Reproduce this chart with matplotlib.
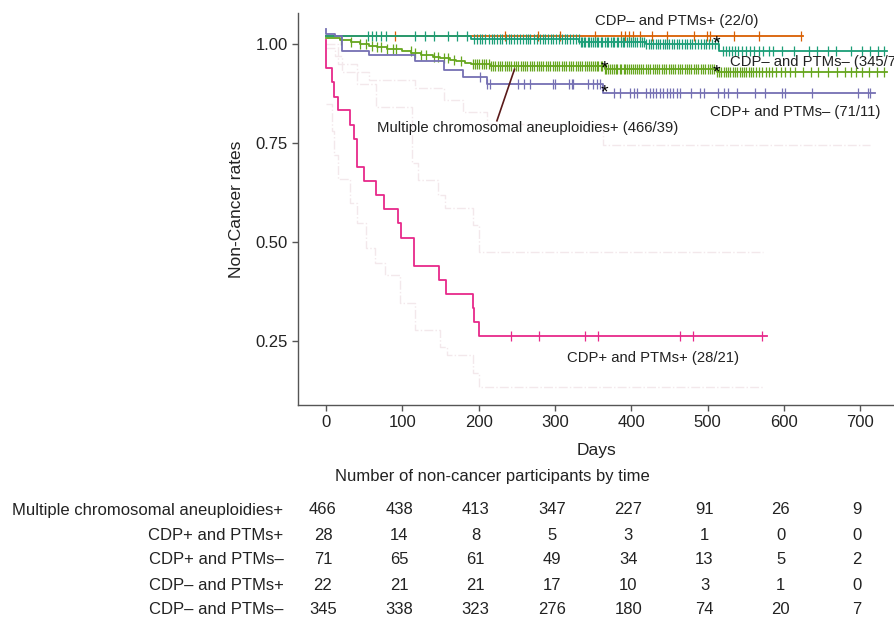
import numpy as np
import matplotlib.pyplot as plt
from matplotlib import transforms

plt.rcParams['font.family'] = ['Liberation Sans', 'DejaVu Sans']

# ---- Kaplan-Meier step curves (day of step, survival after step) ----
pink_t = [0, 0, 8, 11, 16, 32, 37, 40, 50, 65, 76, 95, 98, 115, 148, 157, 192, 194, 200]
pink_s = [1.01, 0.940, 0.904, 0.868, 0.833, 0.797, 0.762, 0.690, 0.655, 0.619, 0.584,
          0.548, 0.512, 0.441, 0.406, 0.370, 0.334, 0.299, 0.263]
pink_end = 578
pink_cens = [242, 279, 340, 356, 464, 481, 571]

blue_t = [0, 0, 12, 21, 56, 116, 154, 179, 211, 363]
blue_s = [1.040, 1.026, 1.021, 0.984, 0.973, 0.958, 0.935, 0.918, 0.900, 0.876]
blue_end = 720
blue_cens = [202, 211, 215, 252, 259, 267, 298, 300, 318, 322, 324, 344, 350, 355, 359,
             377, 385, 398, 403, 407, 420, 425, 429, 433, 438, 442, 447, 451, 455, 460,
             464, 478, 490, 495, 514, 521, 527, 538, 562, 575, 597, 602, 637, 697, 710, 713]

orange_t = [0]
orange_s = [1.020]
orange_end = 625
orange_cens = [91, 235, 278, 307, 352, 387, 392, 397, 402, 412, 427, 447, 482, 499,
               503, 535, 568, 623]

teal_t = [0, 190, 332, 420, 515]
teal_s = [1.020, 1.013, 1.006, 1.000, 0.983]
teal_end = 735
teal_cens = [55, 60, 65, 72, 79, 116, 130, 141, 160, 172, 185,
             194, 198, 202, 205, 209, 213, 217, 220, 224, 228, 231,
             236, 240, 243, 247, 250, 254, 258, 262, 265, 268, 272, 276, 280, 284, 287,
             291, 295, 298, 302, 305, 309, 313, 316, 320, 324, 328, 331,
             334, 336, 338, 340, 343, 345, 347, 350, 352, 355, 357, 360, 362, 365, 368,
             370, 373, 376, 378, 381, 383, 386, 389, 391, 394, 397, 400, 402, 405, 408,
             411, 414, 417, 420, 423, 426, 429, 432, 435, 438, 441, 444, 447, 450, 453,
             456, 460, 463, 466, 470, 473, 477, 480, 484, 487, 491, 495, 498, 502, 506,
             510, 514, 520, 524, 528, 532, 536, 540, 545, 550, 556, 561, 567, 573, 580,
             586, 598, 613, 633, 643, 658, 668, 688, 703, 713, 723, 731]

green_t = [0, 18, 33, 45, 56, 67, 80, 100, 112, 125, 140, 150, 162, 170, 182, 190, 215, 365, 512]
green_s = [1.016, 1.011, 1.005, 1.000, 0.996, 0.993, 0.989, 0.983, 0.978, 0.973, 0.969,
           0.965, 0.961, 0.958, 0.954, 0.950, 0.945, 0.938, 0.929]
green_end = 735
green_cens = [20, 33, 45, 53, 60, 67, 72, 80, 88, 92, 111, 116, 125, 131, 142, 147, 155,
              160, 168, 177, 192, 195, 198, 201, 204, 207, 210, 213, 216, 219, 222, 225,
              228, 231, 234, 237, 240, 243, 246, 249, 252, 255, 258, 261, 264, 267, 270,
              273, 276, 279, 282, 285, 288, 291, 294, 297, 300, 303, 306, 309, 312, 315,
              318, 321, 324, 327, 330, 333, 336, 339, 342, 345, 347, 350, 352, 355, 357,
              360, 362, 365, 367, 370, 372, 375, 377, 380, 382, 385, 387, 390, 392, 395,
              397, 400, 402, 405, 407, 410, 413, 416, 419, 422, 425, 428, 431, 434, 437,
              440, 443, 446, 449, 452, 455, 458, 461, 464, 467, 470, 473, 476, 479, 482,
              485, 488, 491, 494, 497, 500, 503, 506, 509, 512, 515, 518, 521, 524, 527,
              530, 533, 536, 539, 542, 545, 548, 551, 554, 557, 560, 564, 568, 572, 576,
              580, 585, 590, 596, 602, 608, 615, 625, 635, 645, 658, 670, 680, 688, 695,
              702, 712, 722, 731]

# 95% CI bounds (faint)
pink_hi_t = [0, 16, 40, 66, 113, 120, 147, 156, 193, 200]
pink_hi_s = [1.0, 0.95, 0.90, 0.842, 0.70, 0.657, 0.619, 0.586, 0.544, 0.476]
pink_lo_t = [0, 8, 11, 16, 32, 40, 53, 64, 77, 97, 117, 150, 158, 193, 200]
pink_lo_s = [0.85, 0.78, 0.72, 0.66, 0.60, 0.55, 0.485, 0.447, 0.418, 0.346, 0.279,
             0.236, 0.215, 0.169, 0.135]
ci_end = 573
blue_lo_t = [0, 12, 21, 56, 116, 154, 179, 211, 363]
blue_lo_s = [0.99, 0.97, 0.93, 0.91, 0.89, 0.86, 0.83, 0.80, 0.746]
blue_lo_end = 713

star_days = [365, 512]

# number at risk table
risk_times = [0, 100, 200, 300, 400, 500, 600, 700]
risk_labels = ['Multiple chromosomal aneuploidies+', 'CDP+ and PTMs+', 'CDP+ and PTMs\u2013',
               'CDP\u2013 and PTMs+', 'CDP\u2013 and PTMs\u2013']
risk_mca = [466, 438, 413, 347, 227, 91, 26, 9]
risk_pp = [28, 14, 8, 5, 3, 1, 0, 0]
risk_pm = [71, 65, 61, 49, 34, 13, 5, 2]
risk_mp = [22, 21, 21, 17, 10, 3, 1, 0]
risk_mm = [345, 338, 323, 276, 180, 74, 20, 7]

c_teal, c_orange, c_purple, c_pink, c_green = '#1B9E77', '#D95F02', '#7570B3', '#E7298A', '#66A61E'


def value_at(t, s, day):
    i = np.searchsorted(t, day, side='right') - 1
    return s[i]


def km(ax, t, s, end, cens, color, lw=1.3):
    xs = list(t) + [end]
    ys = list(s) + [s[-1]]
    ax.step(xs, ys, where='post', color=color, lw=lw, zorder=3)
    if cens:
        cy = [value_at(np.array(t), s, d) for d in cens]
        ax.plot(cens, cy, ls='none', marker='|', ms=7, mew=0.9, color=color, zorder=3)


fig = plt.figure(figsize=(8.95, 6.17), dpi=100)
ax = fig.add_axes([0.3333, 0.3436, 0.6667, 0.6358])

ci_col = '#f3e8eb'
ax.step(pink_hi_t + [ci_end], pink_hi_s + [pink_hi_s[-1]], where='post', color=ci_col, lw=1, ls='-.', zorder=1)
ax.step(pink_lo_t + [ci_end], pink_lo_s + [pink_lo_s[-1]], where='post', color=ci_col, lw=1, ls='-.', zorder=1)
ax.step(blue_lo_t + [blue_lo_end], blue_lo_s + [blue_lo_s[-1]], where='post', color=ci_col, lw=1, ls='-.', zorder=1)

km(ax, orange_t, orange_s, orange_end, orange_cens, c_orange)
km(ax, teal_t, teal_s, teal_end, teal_cens, c_teal)
km(ax, green_t, green_s, green_end, green_cens, c_green)
km(ax, blue_t, blue_s, blue_end, blue_cens, c_purple)
km(ax, pink_t, pink_s, pink_end, pink_cens, c_pink)

# asterisks at 1 year and ~17 months
for t, s in [(green_t, green_s), (blue_t, blue_s)]:
    d = star_days[0]
    ax.text(d, value_at(np.array(t), s, d), '*', ha='center', va='center', fontsize=14, zorder=5)
for t, s in [(green_t, green_s), (teal_t, teal_s)]:
    d = star_days[1]
    ax.text(d, value_at(np.array(t), s, d), '*', ha='center', va='center', fontsize=14, zorder=5)

ax.set_xlim(-36.3, 745.7)
ax.set_ylim(0.089, 1.08)
ax.set_xticks(risk_times)
ax.set_yticks([0.25, 0.5, 0.75, 1.0])
ax.set_yticklabels(['0.25', '0.50', '0.75', '1.00'])
for side in ['top', 'right']:
    ax.spines[side].set_visible(False)
for side in ['left', 'bottom']:
    ax.spines[side].set_color('#555555')
    ax.spines[side].set_linewidth(1.0)
ax.tick_params(colors='#555555', labelcolor='#222222', labelsize=12, length=4, width=1)
ax.set_xlabel('Days', fontsize=12.5, color='#222222', labelpad=9)
ax.set_ylabel('Non-Cancer rates', fontsize=12.5, color='#222222', labelpad=8)

# curve labels
lab = dict(fontsize=10.7, color='#222222')
ax.text(460, 1.059, 'CDP\u2013 and PTMs+ (22/0)', ha='center', va='center', **lab)
ax.text(530, 0.955, 'CDP\u2013 and PTMs\u2013 (345/7)', ha='left', va='center', **lab)
ax.text(503, 0.83, 'CDP+ and PTMs\u2013 (71/11)', ha='left', va='center', **lab)
ax.text(264, 0.788, 'Multiple chromosomal aneuploidies+ (466/39)', ha='center', va='center', **lab)
ax.text(429, 0.208, 'CDP+ and PTMs+ (28/21)', ha='center', va='center', **lab)
ax.plot([224, 247], [0.807, 0.937], color='#5a1a1a', lw=1.2, zorder=4)

# number at risk table
trans = transforms.blended_transform_factory(ax.transData, fig.transFigure)
fig.text(0.5503, 1 - 476.7 / 617, 'Number of non-cancer participants by time',
         ha='center', va='center', fontsize=12, color='#222222')
rows_y = [510, 535, 560, 585, 609]
for lbl, vals, y in zip(risk_labels, [risk_mca, risk_pp, risk_pm, risk_mp, risk_mm], rows_y):
    fy = 1 - y / 617
    fig.text(283.5 / 895, fy, lbl, ha='right', va='center', fontsize=12, color='#222222')
    for t, v in zip(risk_times, vals):
        ax.text(t - 4, fy, str(v), transform=trans, ha='center', va='center',
                fontsize=12, color='#222222', clip_on=False)

fig.savefig('out.png', dpi=100)
